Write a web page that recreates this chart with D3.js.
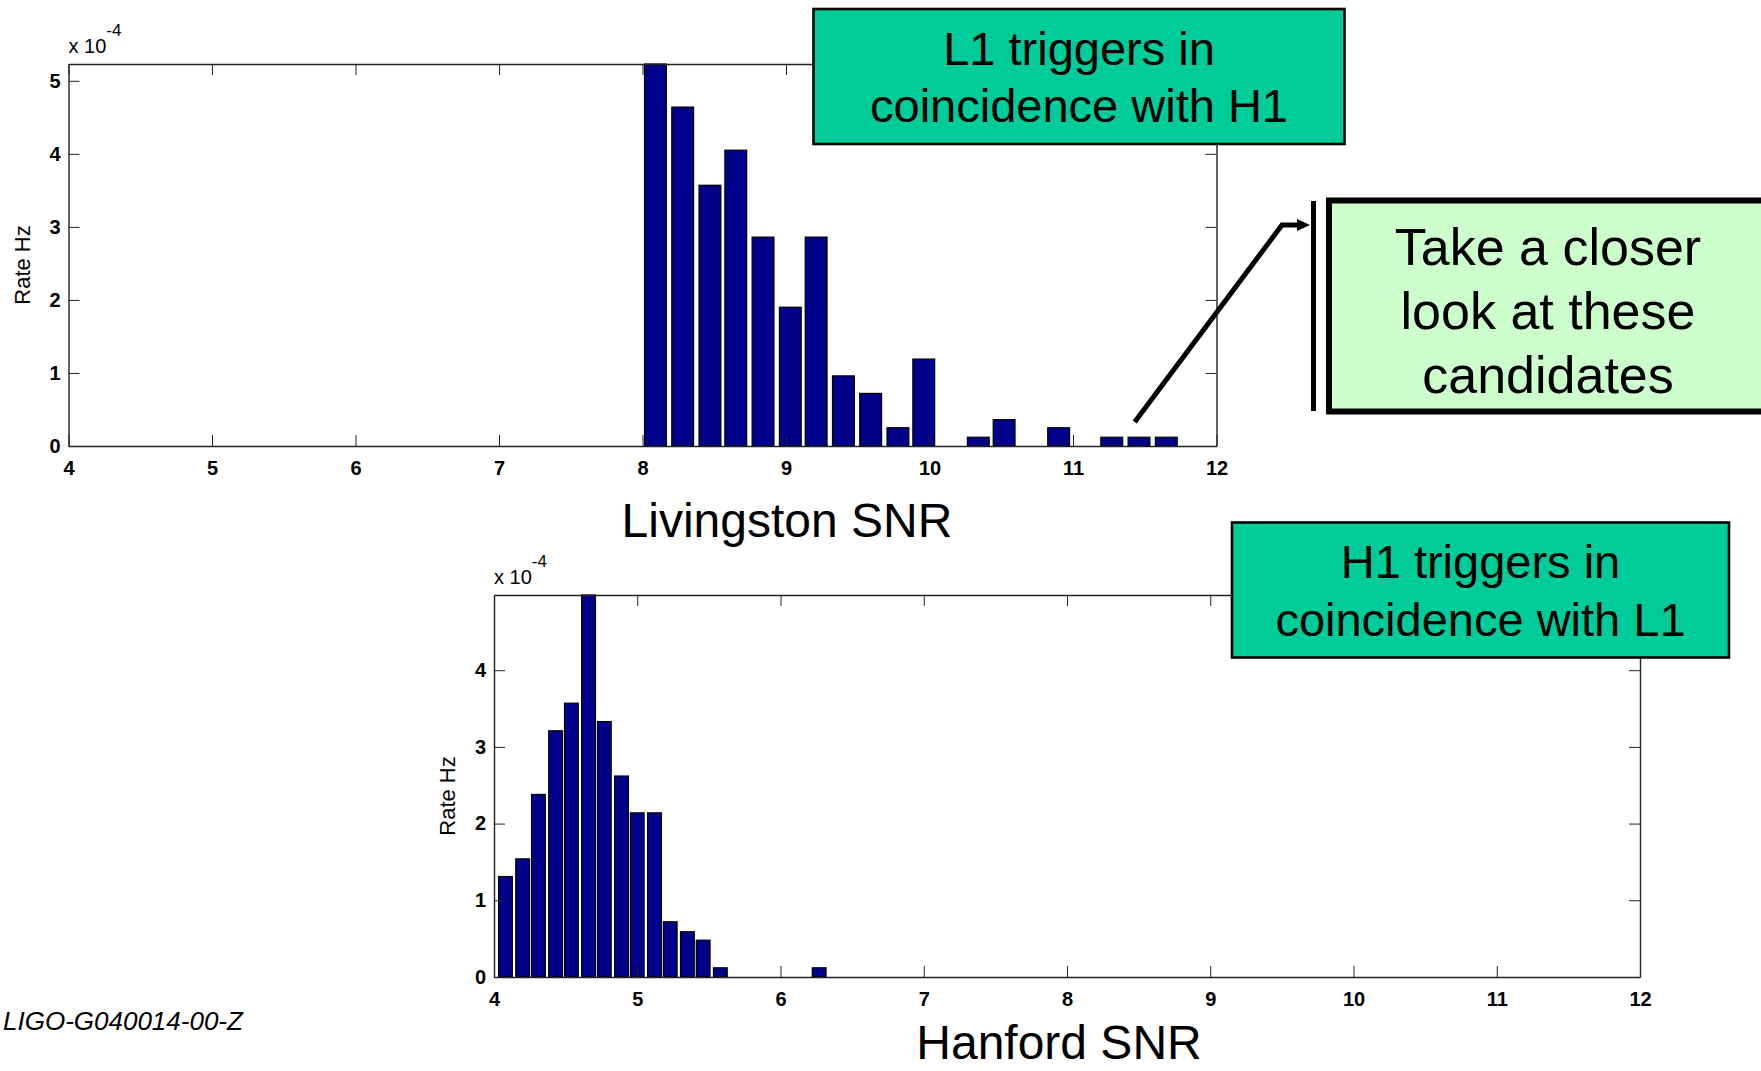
<!DOCTYPE html>
<html>
<head>
<meta charset="utf-8">
<script src="https://cdn.jsdelivr.net/npm/d3@7"></script>
<style>
    body { margin: 0; background: #fff; }
    svg { display: block; font-family: "Liberation Sans", Arial, Helvetica, sans-serif; }
    .axis path, .axis line { stroke: #222; }
    .axis text { fill: #000; }
</style>
</head>
<body>
<svg id="canvas" width="1761" height="1071"></svg>
<script>
// Livingston (L1) histogram - bin centres and rate (x 1e-4 Hz)
const livCenters = [8.09, 8.28, 8.47, 8.65, 8.84, 9.03, 9.21, 9.40, 9.59, 9.78,
                    9.96, 10.15, 10.34, 10.52, 10.71, 10.90, 11.09, 11.27, 11.46, 11.65];
const livRates = [5.23, 4.64, 3.57, 4.05, 2.86, 1.90, 2.86, 0.96, 0.72, 0.25,
                  1.19, 0, 0.12, 0.36, 0, 0.25, 0, 0.12, 0.12, 0.12];

// Hanford (H1) histogram
const hanCenters = [4.08, 4.20, 4.31, 4.43, 4.54, 4.66, 4.77, 4.89, 5.00, 5.12,
                    5.23, 5.35, 5.46, 5.58, 5.69, 5.81, 5.92, 6.04, 6.15, 6.27];
const hanRates = [1.31, 1.54, 2.38, 3.21, 3.57, 4.98, 3.33, 2.62, 2.14, 2.14,
                  0.72, 0.59, 0.48, 0.12, 0, 0, 0, 0, 0, 0.12];

// tick labels
const xTicks = [4, 5, 6, 7, 8, 9, 10, 11, 12];
const livYTicks = [0, 1, 2, 3, 4, 5];
const hanYTicks = [0, 1, 2, 3, 4];

const svg = d3.select('#canvas');
svg.append('rect').attr('width', 1761).attr('height', 1071).attr('fill', '#fff');

// draws one MATLAB style histogram - called twice
function drawHist(cfg){
    let g = svg.append('g');

    let xScale = d3.scaleLinear()
        .domain([4, 12])
        .range([cfg.left, cfg.right]);
    let yScale = d3.scaleLinear()
        .domain([0, d3.max(cfg.rates)])
        .range([cfg.bottom, cfg.top]);

    let binW = cfg.centers[1] - cfg.centers[0];
    let barW = xScale(4 + binW * 0.8) - xScale(4);

    let barData = cfg.centers.map(function(c, i){
        return {x: c, v: cfg.rates[i]};
    }).filter(function(d){ return d.v > 0; });

    g.selectAll('.bars')
        .data(barData)
        .enter()
        .append('rect')
        .attr('class', 'bars')
        .attr('x', function(d){ return xScale(d.x) - barW / 2; })
        .attr('y', function(d){ return yScale(d.v); })
        .attr('width', barW)
        .attr('height', function(d){ return cfg.bottom - yScale(d.v); })
        .attr('fill', '#00008B')
        .attr('stroke', '#000')
        .attr('stroke-width', 1.2);

    // axes - ticks point inwards on every side
    let xAxis = d3.axisBottom(xScale).tickValues(xTicks).tickSize(-11).tickSizeOuter(0)
        .tickPadding(15).tickFormat(d3.format('d'));
    let xAxisTop = d3.axisTop(xScale).tickValues(xTicks).tickSize(-11).tickSizeOuter(0).tickFormat('');
    let yAxis = d3.axisLeft(yScale).tickValues(cfg.yTicks).tickSize(-11).tickSizeOuter(0)
        .tickPadding(8).tickFormat(d3.format('d'));
    let yAxisRight = d3.axisRight(yScale).tickValues(cfg.yTicks).tickSize(-11).tickSizeOuter(0).tickFormat('');

    g.append('g').attr('class', 'axis')
        .attr('transform', 'translate(0,' + cfg.bottom + ')')
        .style('font-size', '20px')
        .call(xAxis);
    g.append('g').attr('class', 'axis')
        .attr('transform', 'translate(0,' + cfg.top + ')')
        .call(xAxisTop);
    g.append('g').attr('class', 'axis')
        .attr('transform', 'translate(' + cfg.left + ',0)')
        .style('font-size', '20px')
        .call(yAxis);
    g.append('g').attr('class', 'axis')
        .attr('transform', 'translate(' + cfg.right + ',0)')
        .call(yAxisRight);
    g.selectAll('.axis text')
        .attr('font-family', null)
        .style('font-family', '"Liberation Sans", Arial, sans-serif')
        .style('font-weight', 'bold');
    g.selectAll('.axis path').attr('stroke-width', 1.4);

    // exponent label
    let ex = g.append('text')
        .attr('x', cfg.left)
        .attr('y', cfg.top - 11)
        .attr('font-size', '20px');
    ex.append('tspan').text('x 10');
    ex.append('tspan').attr('dy', -17).attr('font-size', '17px').text('-4');

    // y label
    g.append('text')
        .attr('transform', 'translate(' + cfg.yLabelX + ',' + ((cfg.top + cfg.bottom) / 2 + 10) + ') rotate(-90)')
        .attr('text-anchor', 'middle')
        .attr('font-size', '22px')
        .text('Rate Hz');

    // x label
    g.append('text')
        .attr('x', cfg.titleX)
        .attr('y', cfg.titleY)
        .attr('text-anchor', 'middle')
        .attr('font-size', '48px')
        .text(cfg.title);

    return {x: xScale, y: yScale};
}

let liv = drawHist({
    centers: livCenters, rates: livRates, yTicks: livYTicks,
    left: 68.5, right: 1216.5, top: 64, bottom: 446,
    yLabelX: 30, title: 'Livingston SNR', titleX: 787, titleY: 537
});

let han = drawHist({
    centers: hanCenters, rates: hanRates, yTicks: hanYTicks,
    left: 494, right: 1640, top: 595, bottom: 977,
    yLabelX: 455, title: 'Hanford SNR', titleX: 1059, titleY: 1059
});

// annotation boxes
function drawBox(x, y, w, h, fill, sw, lines, fontSize, cx, baselines){
    svg.append('rect')
        .attr('x', x).attr('y', y)
        .attr('width', w).attr('height', h)
        .attr('fill', fill)
        .attr('stroke', '#000')
        .attr('stroke-width', sw);
    lines.forEach(function(t, i){
        svg.append('text')
            .attr('x', cx)
            .attr('y', baselines[i])
            .attr('text-anchor', 'middle')
            .attr('font-size', fontSize + 'px')
            .text(t);
    });
}

drawBox(813.5, 9, 531, 135, '#00CC99', 2.6,
    ['L1 triggers in', 'coincidence with H1'], 47, 1079, [65, 122]);
drawBox(1232, 522.5, 497, 135, '#00CC99', 2.6,
    ['H1 triggers in', 'coincidence with L1'], 47, 1480.5, [578, 636]);
drawBox(1329, 200.5, 500, 211, '#CCFFCC', 6,
    ['Take a closer', 'look at these', 'candidates'], 52, 1548, [265, 329, 393]);

// bracket and arrow pointing at the high SNR candidates
svg.append('line')
    .attr('x1', 1313.5).attr('x2', 1313.5)
    .attr('y1', 201).attr('y2', 411)
    .attr('stroke', '#000').attr('stroke-width', 5);

let ax0 = liv.x(11.43), ay0 = liv.y(0.33);
svg.append('path')
    .attr('d', 'M' + ax0 + ',' + ay0 + 'L1282,225L1300,225')
    .attr('fill', 'none')
    .attr('stroke', '#000')
    .attr('stroke-width', 5);
svg.append('path')
    .attr('d', 'M1297,219L1310,225L1297,231Z')
    .attr('fill', '#000');

// document id
svg.append('text')
    .attr('x', 3)
    .attr('y', 1030)
    .attr('font-size', '26px')
    .attr('font-style', 'italic')
    .text('LIGO-G040014-00-Z');
</script>
</body>
</html>
